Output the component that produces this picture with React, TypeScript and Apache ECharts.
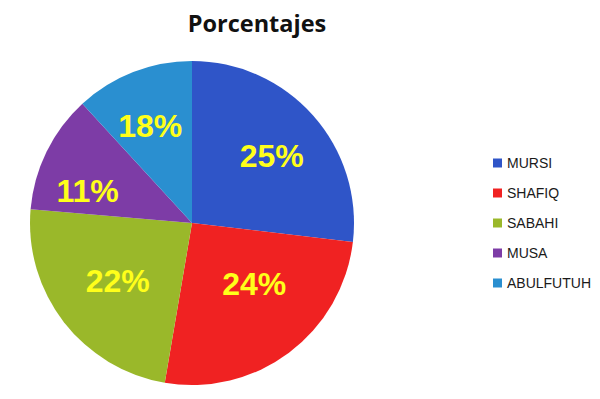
import React, { useEffect, useRef } from "react";
import * as echarts from "echarts";

const categories = ["MURSI", "SHAFIQ", "SABAHI", "MUSA", "ABULFUTUH"];
// slice sizes as drawn in the picture
const sliceValues = [25, 24, 22, 11, 11];
// percentage texts printed on the slices
const percentLabels = ["25%", "24%", "22%", "11%", "18%"];
const colors = ["#2f55c8", "#f02222", "#9ab82a", "#7d3ca6", "#2a8fd0"];
// small nudges of the printed labels: horizontal padding [right, left], vertical shift (px, + = down)
const labelPadX = [
  [0, 4],
  [0, 0],
  [0, 16],
  [22, 0],
  [8, 0],
];
const labelShiftY = [2, -22, -6, 14, 0];

export default function App() {
  const ref = useRef<HTMLDivElement>(null);
  useEffect(() => {
    if (!ref.current) return;
    const chart = echarts.init(ref.current, null, { renderer: "svg" });
    const data = categories.map((name, i) => ({
      name,
      value: sliceValues[i],
      itemStyle: { color: colors[i] },
    }));
    const labelStyle = {
      fontFamily: "Liberation Sans",
      fontWeight: "bold",
      fontSize: 32,
      color: "#ffff1a",
    };
    chart.setOption({
      animation: false,
      backgroundColor: "#ffffff",
      title: {
        text: "Porcentajes",
        left: 252,
        top: 6,
        textAlign: "center",
        textStyle: {
          fontFamily: "Open Sans",
          fontWeight: "bold",
          fontSize: 23.5,
          color: "#111111",
        },
      },
      legend: {
        orient: "vertical",
        left: 493,
        top: 156,
        padding: 0,
        itemWidth: 9,
        itemHeight: 9,
        itemGap: 16,
        icon: "rect",
        selectedMode: false,
        data: categories,
        textStyle: {
          fontFamily: "Liberation Sans",
          fontSize: 14,
          lineHeight: 14,
          color: "#1a1a1a",
        },
      },
      series: [
        {
          type: "pie",
          center: [192, 223],
          radius: [0, 162],
          startAngle: 90,
          clockwise: true,
          label: { show: false },
          labelLine: { show: false },
          itemStyle: { borderWidth: 0 },
          emphasis: { disabled: true },
          data,
        },
        {
          type: "pie",
          center: [192, 223],
          radius: [40, 162],
          startAngle: 90,
          clockwise: true,
          silent: true,
          legendHoverLink: false,
          itemStyle: { color: "transparent", borderWidth: 0 },
          labelLine: { show: false },
          label: {
            show: true,
            position: "inside",
            formatter: (p: any) => {
              const s = labelShiftY[p.dataIndex];
              const t = "{v|" + percentLabels[p.dataIndex] + "}";
              if (s < 0) return t + "\n{sp| }";
              if (s > 0) return "{sp| }\n" + t;
              return t;
            },
            ...labelStyle,
          },
          emphasis: { disabled: true },
          data: categories.map((name, i) => ({
            name: name + " ",
            value: sliceValues[i],
            label: {
              padding: [0, labelPadX[i][0], 0, labelPadX[i][1]],
              rich: {
                v: { ...labelStyle, lineHeight: 34 },
                sp: { fontSize: 1, height: Math.abs(labelShiftY[i]) * 2, lineHeight: Math.abs(labelShiftY[i]) * 2 },
              },
            },
          })),
        },
      ],
    });
    return () => chart.dispose();
  }, []);
  return <div ref={ref} style={{ width: 600, height: 399, margin: -8 }} />;
}
